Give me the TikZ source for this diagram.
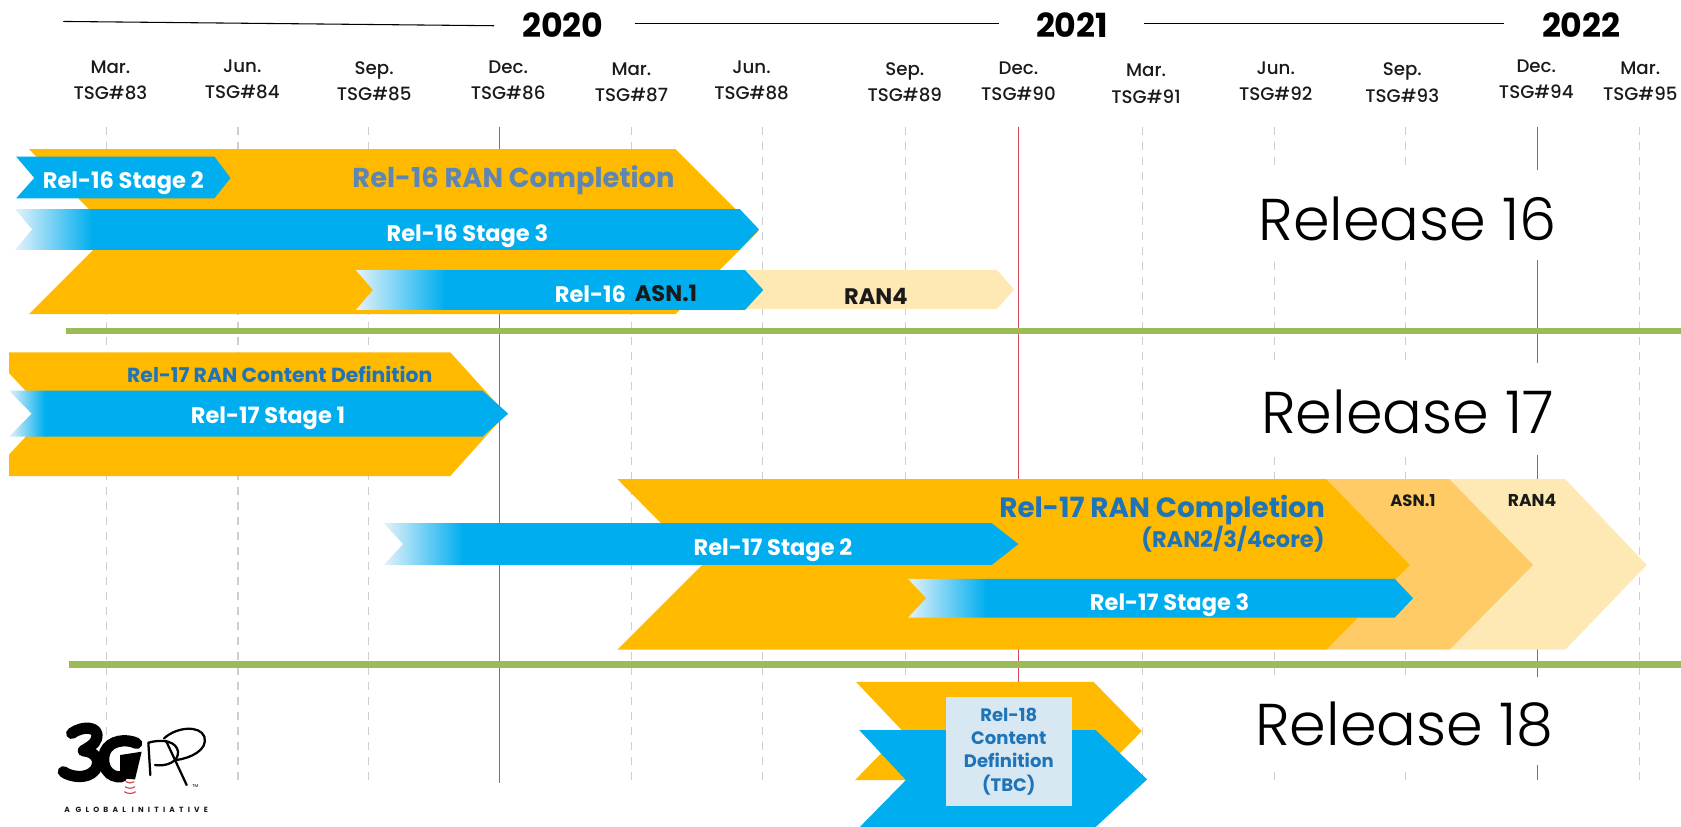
\documentclass[tikz,border=0pt]{standalone}
\usepackage{fontspec}
\setmainfont{Poppins}
\newfontface\fontlight{Poppins Light}
\newfontface\fontmed{Poppins Medium}
\usetikzlibrary{calc}
\definecolor{orng}{HTML}{FFBA00}
\definecolor{orngb}{HTML}{FFCB66}
\definecolor{orngc}{HTML}{FEE9B4}
\definecolor{blu}{HTML}{00AEEF}
\definecolor{fade}{HTML}{E4F2FA}
\definecolor{grn}{HTML}{9BBB59}
\definecolor{redl}{HTML}{D2495A}
\definecolor{gryl}{HTML}{CDCDD2}
\definecolor{txtb}{HTML}{1F74B8}
\definecolor{txtg}{HTML}{5E86B4}
\definecolor{boxb}{HTML}{D8E8F2}
\definecolor{ink}{HTML}{1A1A1A}
\tikzset{
  fb/.style={font=\fontsize{#1}{#1}\selectfont\bfseries},
  month/.style={align=center,inner sep=0pt,text=ink,font=\fontsize{17}{24.5}\selectfont\fontmed},
  year/.style={inner sep=0pt,text=black,font=\fontsize{31}{31}\selectfont\bfseries},
  barlabel/.style={inner sep=0pt,text=white,font=\fontsize{21}{21}\selectfont\bfseries},
  rellabel/.style={inner sep=0pt,anchor=base,text=black,font=\fontsize{55}{55}\selectfont\fontlight},
  tick/.style={gryl,line width=1.1pt,dash pattern=on 8pt off 6pt},
  redline/.style={redl,line width=1.3pt},
  sep/.style={grn,line width=6pt},
  cover/.style={fill=white,draw=none},
}
\newcommand{\fadebar}[7]{%
  \shade[left color=fade,right color=blu,shading angle=90,draw=none]
    (#1,#6) -- (#3,#6) -- (#3,#7) -- (#1,#7) -- (#2,{(#6+#7)/2}) -- cycle;
  \fill[blu] (#3-0.3,#6) -- (#4,#6) -- (#5,{(#6+#7)/2}) -- (#4,#7) -- (#3-0.3,#7) -- cycle;
}
\begin{document}
\begin{tikzpicture}[x=1pt,y=-1pt]
\useasboundingbox (0,0) rectangle (1568,771.4);
\fill[white] (0,0) rectangle (1568,771.4);
% year rule
\coordinate (r1a) at (59,20); \coordinate (r1b) at (461,24);
\coordinate (r2a) at (592,22); \coordinate (r2b) at (932,22);
\coordinate (r3a) at (1067,22); \coordinate (r3b) at (1403,22);
\draw[black,line width=1pt] (r1a) -- (r1b);
\draw[black,line width=1pt] (r2a) -- (r2b);
\draw[black,line width=1pt] (r3a) -- (r3b);
\node[year] (y20) at (525,23) {2020};
\node[year] (y21) at (1000,23) {2021};
\node[year] (y22) at (1475,23) {2022};
% months
\node[month] (m83) at (103,75) {Mar.\\TSG\#83};
\node[month] (m84) at (226,74) {Jun.\\TSG\#84};
\node[month] (m85) at (349,76) {Sep.\\TSG\#85};
\node[month] (m86) at (474,75) {Dec.\\TSG\#86};
\node[month] (m87) at (589,77) {Mar.\\TSG\#87};
\node[month] (m88) at (701,75) {Jun.\\TSG\#88};
\node[month] (m89) at (844,77) {Sep.\\TSG\#89};
\node[month] (m90) at (950,76) {Dec.\\TSG\#90};
\node[month] (m91) at (1069,78) {Mar.\\TSG\#91};
\node[month] (m92) at (1190,76) {Jun.\\TSG\#92};
\node[month] (m93) at (1308,77) {Sep.\\TSG\#93};
\node[month] (m94) at (1433,74) {Dec.\\TSG\#94};
\node[month] (m95) at (1530,76) {Mar.\\TSG\#95};
% vertical lines
\foreach \xx in {99,222,344,589,711,845,1066,1189,1311,1529}{\draw[tick] (\xx,118) -- (\xx,728);}
\draw[redline] (466,118) -- (466,730);
\draw[redline] (950,118) -- (950,640);
\draw[redline] (1434,118) -- (1434,727.7);
% white boxes behind the release titles
\fill[cover] (1165,158.6) rectangle (1460,242.5);
\fill[cover] (1165,339) rectangle (1460,424.6);
\fill[cover] (1165,631.3) rectangle (1460,713.6);
% separators
\draw[sep] (62,309) -- (1568,309);
\draw[sep] (64,620) -- (1568,620);
% Release 16
\fill[orng] (27,139) -- (630,139) -- (707,216) -- (630,293) -- (27,293) -- (104,216) -- cycle;
\fill[orngc] (695,252) -- (930,252) -- (946,270) -- (930,288) -- (695,288) -- cycle;
\fill[blu] (15,146) -- (200,146) -- (215,166) -- (200,185) -- (15,185) -- (32,166) -- cycle;
\fadebar{14}{30}{86}{690}{708}{195}{233}
\fadebar{332}{348}{415}{695}{712}{252}{289}
\node[barlabel] (s162) at (115,170.5) {Rel-16 Stage 2};
\node[inner sep=0pt,text=txtg,fb=25.5] (c16) at (479,168) {Rel-16 RAN Completion};
\node[barlabel] (s163) at (436,220.5) {Rel-16 Stage 3};
\node[barlabel,anchor=east] (a161) at (584,274) {Rel-16};
\node[barlabel,text=ink,anchor=west] (a162) at (592,274) {ASN.1};
\node[barlabel,text=ink] (r416) at (817,276) {RAN4};
% Release 17 upper
\fill[orng] (8.4,328.6) -- (420,328.6) -- (472,386) -- (420,444) -- (8.4,444) -- (8.4,424) -- (44,386) -- (8.4,348) -- cycle;
\fadebar{8.4}{29.5}{42}{450}{474}{364.4}{407.3}
\node[inner sep=0pt,text=txtb,fb=19] (c17d) at (261,349) {Rel-17 RAN Content Definition};
\node[barlabel] (s171) at (250,390.5) {Rel-17 Stage 1};
% Release 17 lower
\fill[orngc] (1352,447) -- (1460,447) -- (1536,527) -- (1460,606) -- (1352,606) -- cycle;
\fill[orngb] (1237,447) -- (1352,447) -- (1430,527) -- (1352,606) -- (1237,606) -- cycle;
\fill[orng] (576,447) -- (1237,447) -- (1315,527) -- (1237,606) -- (576,606) -- (655,527) -- cycle;
\fadebar{358}{376}{432}{925}{950}{488}{527}
\fadebar{847}{864}{920}{1301}{1318}{540}{576}
\node[inner sep=0pt,text=txtb,fb=26] (c17) at (1084,475.5) {Rel-17 RAN Completion};
\node[inner sep=0pt,text=txtb,fb=21] (c17b) at (1150,503) {(RAN2/3/4core)};
\node[inner sep=0pt,text=ink,fb=15.3] (a17) at (1318,467) {ASN.1};
\node[inner sep=0pt,text=ink,fb=16] (r17) at (1429,467) {RAN4};
\node[barlabel] (s172) at (721,513.5) {Rel-17 Stage 2};
\node[barlabel] (s173) at (1091,564.5) {Rel-17 Stage 3};
% Release 18
\fill[orng] (798.5,636) -- (1020,636) -- (1065,682) -- (1020,727.6) -- (797.6,727.6) -- (842,682) -- cycle;
\fill[blu] (801.5,681) -- (1022,681) -- (1070,727) -- (1022,771.4) -- (802,771.4) -- (845,727.6) -- cycle;
\node[fill=boxb,minimum width=118pt,minimum height=102pt,inner sep=0pt] (box18) at (941,701) {};
\node[inner sep=0pt,align=center,text=txtb,font=\fontsize{16.8}{21.7}\selectfont\bfseries] (t18) at (box18.center) {Rel-18\\Content\\Definition\\(TBC)};
% Release titles
\node[rellabel] (l16) at (1313,224) {Release 16};
\node[rellabel] (l17) at (1313,404) {Release 17};
\node[rellabel] (l18) at (1310,695) {Release 18};
% logo
\begin{scope}[shift={(37.3,662.3)},x=0.311pt,y=-0.311pt]
  \draw[black,line width=10.5pt,line cap=round,line join=round]
    (95,70) .. controls (130,45) and (180,50) .. (170,85) .. controls (165,105) and (140,115) .. (130,122)
    .. controls (165,125) and (185,150) .. (165,180) .. controls (140,210) and (90,200) .. (70,185);
  \draw[black,line width=10.5pt,line cap=round]
    (290,100) .. controls (260,85) and (210,90) .. (195,125) .. controls (180,165) and (205,205) .. (245,200);
  \fill[black] (240,135) -- (305,125) -- (285,208) -- (240,205) -- cycle;
  \draw[redl,line width=1.1pt]
    (257,215) .. controls (265,220) and (275,220) .. (283,215)
    (255,230) .. controls (265,236) and (275,236) .. (285,230)
    (253,245) .. controls (265,252) and (275,252) .. (287,245);
  \draw[black,line width=2.1pt,line cap=round,line join=round]
    (325,98) -- (331,195)
    (325,98) .. controls (370,85) and (410,95) .. (414,125) .. controls (416,155) and (380,170) .. (345,165);
  \draw[black,line width=2.1pt,line cap=round,line join=round]
    (378,92) -- (440,225)
    (372,85) .. controls (410,50) and (480,45) .. (493,80) .. controls (505,120) and (450,145) .. (408,150);
  \node[inner sep=0pt,text=black,font=\fontsize{4}{4}\selectfont] (tm) at (466,228) {TM};
\end{scope}
\node[inner sep=0pt,text=ink,font=\fontsize{7}{7}\selectfont\bfseries\addfontfeature{LetterSpace=56}] (glob) at (127,755.6) {A GLOBAL INITIATIVE};
\end{tikzpicture}
\end{document}
